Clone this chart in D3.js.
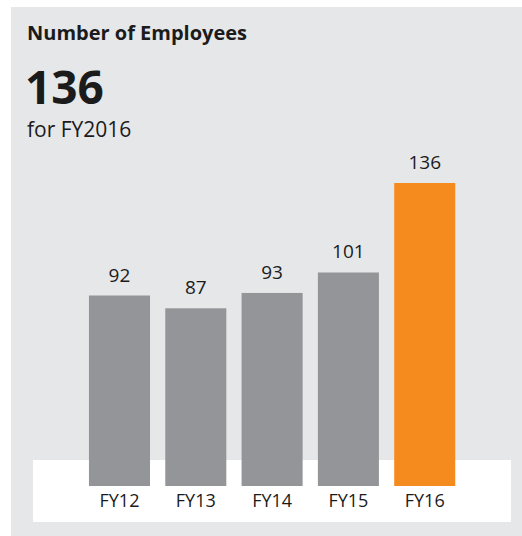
<!DOCTYPE html>
<html>
<head>
<meta charset="utf-8">
<script src="https://cdn.jsdelivr.net/npm/d3@7"></script>
<style>
  body { margin: 0; background: #ffffff; }
  text { font-family: "Open Sans", sans-serif; fill: #1b1b1b; }
</style>
</head>
<body>
<div id="graph"></div>
<script>
// Données : effectif par exercice
var annees = ["FY12", "FY13", "FY14", "FY15", "FY16"];
var effectifs = [92, 87, 93, 101, 136];
var couleurs = ["#949598", "#949598", "#949598", "#949598", "#f58b1f"];

var donnees = annees.map(function(a, i) {
  return { annee: a, valeur: effectifs[i], couleur: couleurs[i] };
});

var largeurTotale = 522,
    hauteurTotale = 536;

var svg = d3.select("#graph").append("svg")
    .attr("width", largeurTotale)
    .attr("height", hauteurTotale);

// Fond gris du panneau
svg.append("rect")
    .attr("x", 11).attr("y", 7)
    .attr("width", 511).attr("height", 529)
    .attr("fill", "#e6e7e9");

// Bande blanche sous les barres
svg.append("rect")
    .attr("x", 33).attr("y", 460)
    .attr("width", 478).attr("height", 62)
    .attr("fill", "#ffffff");

// Titres
svg.append("text")
    .attr("x", 27).attr("y", 40)
    .style("font-size", "20px")
    .style("font-weight", "bold")
    .text("Number of Employees");

svg.append("text")
    .attr("x", 25).attr("y", 104)
    .style("font-size", "46px")
    .style("font-weight", "bold")
    .text("136");

svg.append("text")
    .attr("x", 27).attr("y", 137)
    .style("font-size", "21px")
    .text("for FY2016");

// Echelles
var echelleX = d3.scaleBand()
    .domain(annees)
    .range([73.7, 470.5])
    .padding(0.2);

var echelleY = d3.scaleLinear()
    .domain([17.5, 136])
    .range([486, 183]);

// Barres
svg.selectAll(".bar")
  .data(donnees)
  .enter()
  .append("rect")
  .attr("class", "bar")
  .attr("x", function(d) { return echelleX(d.annee); })
  .attr("width", echelleX.bandwidth())
  .attr("y", function(d) { return echelleY(d.valeur); })
  .attr("height", function(d) { return 486 - echelleY(d.valeur); })
  .attr("fill", function(d) { return d.couleur; });

// Valeurs au-dessus des barres
svg.selectAll(".valeur")
  .data(donnees)
  .enter()
  .append("text")
  .attr("class", "valeur")
  .attr("x", function(d) { return echelleX(d.annee) + echelleX.bandwidth() / 2; })
  .attr("y", function(d) { return echelleY(d.valeur) - 14; })
  .attr("text-anchor", "middle")
  .style("font-size", "19px")
  .text(function(d) { return d.valeur; });

// Axe X (sans ligne ni graduations)
var axeX = d3.axisBottom(echelleX).tickSize(0).tickPadding(8);
var gAxe = svg.append("g")
    .attr("transform", "translate(0,486)")
    .call(axeX);
gAxe.select(".domain").remove();
gAxe.selectAll("text")
    .attr("dy", "0.71em")
    .style("font-size", "18px")
    .style("font-family", "\"Open Sans\", sans-serif")
    .attr("fill", "#1b1b1b");
</script>
</body>
</html>
